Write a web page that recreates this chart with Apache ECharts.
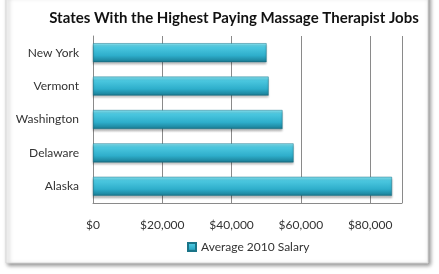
<!DOCTYPE html>
<html><head><meta charset="utf-8">
<script src="https://cdn.jsdelivr.net/npm/echarts@6/dist/echarts.min.js"></script>
<style>html,body{margin:0;padding:0;background:#fff}#c{width:439px;height:274px}</style>
</head><body><div id="c"></div>
<script>
const categories = ['Alaska', 'Delaware', 'Washington', 'Vermont', 'New York'];
const salaries = [86300, 57900, 54700, 50700, 50100];
const tickValues = [0, 20000, 40000, 60000, 80000];
const seriesName = 'Average 2010 Salary';
const titleText = 'States With the Highest Paying Massage Therapist Jobs';

const chart = echarts.init(document.getElementById('c'), null, {renderer: 'canvas'});
const barGrad = new echarts.graphic.LinearGradient(0, 0, 0, 1, [
  {offset: 0, color: '#8ae4f2'},
  {offset: 0.2, color: '#4cc8e0'},
  {offset: 0.65, color: '#2eaecb'},
  {offset: 0.9, color: '#1f8aa3'},
  {offset: 1, color: '#176a7e'}
]);
chart.setOption({
  animation: false,
  graphic: [{
    type: 'rect', z: -10, silent: true,
    shape: {x: 6, y: -5, width: 422, height: 268},
    style: {fill: '#fff', stroke: '#d8d8d8', lineWidth: 1, shadowBlur: 4, shadowOffsetX: 2, shadowOffsetY: 2, shadowColor: 'rgba(0,0,0,0.45)'}
  }],
  title: {
    text: titleText, left: 229, top: 6, textAlign: 'center',
    textStyle: {fontFamily: 'Lato', fontWeight: 'bold', fontSize: 15, color: '#111'}
  },
  legend: {
    data: [seriesName], top: 236, left: 182, itemWidth: 8, itemHeight: 8, itemGap: 4,
    icon: 'rect',
    textStyle: {fontFamily: 'Lato', fontSize: 12, color: '#333'}
  },
  grid: {left: 93, right: 37, top: 36, bottom: 71, containLabel: false},
  xAxis: {
    type: 'value', min: 0, max: 89200, interval: 20000,
    axisLine: {show: true, lineStyle: {color: '#8a8a8a'}},
    axisTick: {show: false},
    splitLine: {show: true, lineStyle: {color: '#8a8a8a', width: 1}},
    axisLabel: {
      showMaxLabel: false, margin: 16,
      fontFamily: 'Lato', fontSize: 12, color: '#333',
      formatter: v => tickValues.includes(v) ? '$' + v.toLocaleString('en-US') : ''
    }
  },
  yAxis: {
    type: 'category', data: categories,
    axisLine: {show: true, lineStyle: {color: '#8a8a8a'}},
    axisTick: {show: false},
    axisLabel: {fontFamily: 'Lato', fontSize: 12, color: '#333', margin: 14}
  },
  series: [{
    name: seriesName, type: 'bar', data: salaries, barWidth: 19,
    itemStyle: {color: barGrad, borderColor: '#1a7488', borderWidth: 0.5,
      shadowColor: 'rgba(0,0,0,0.25)', shadowBlur: 2, shadowOffsetY: 2}
  }]
});
</script></body></html>
